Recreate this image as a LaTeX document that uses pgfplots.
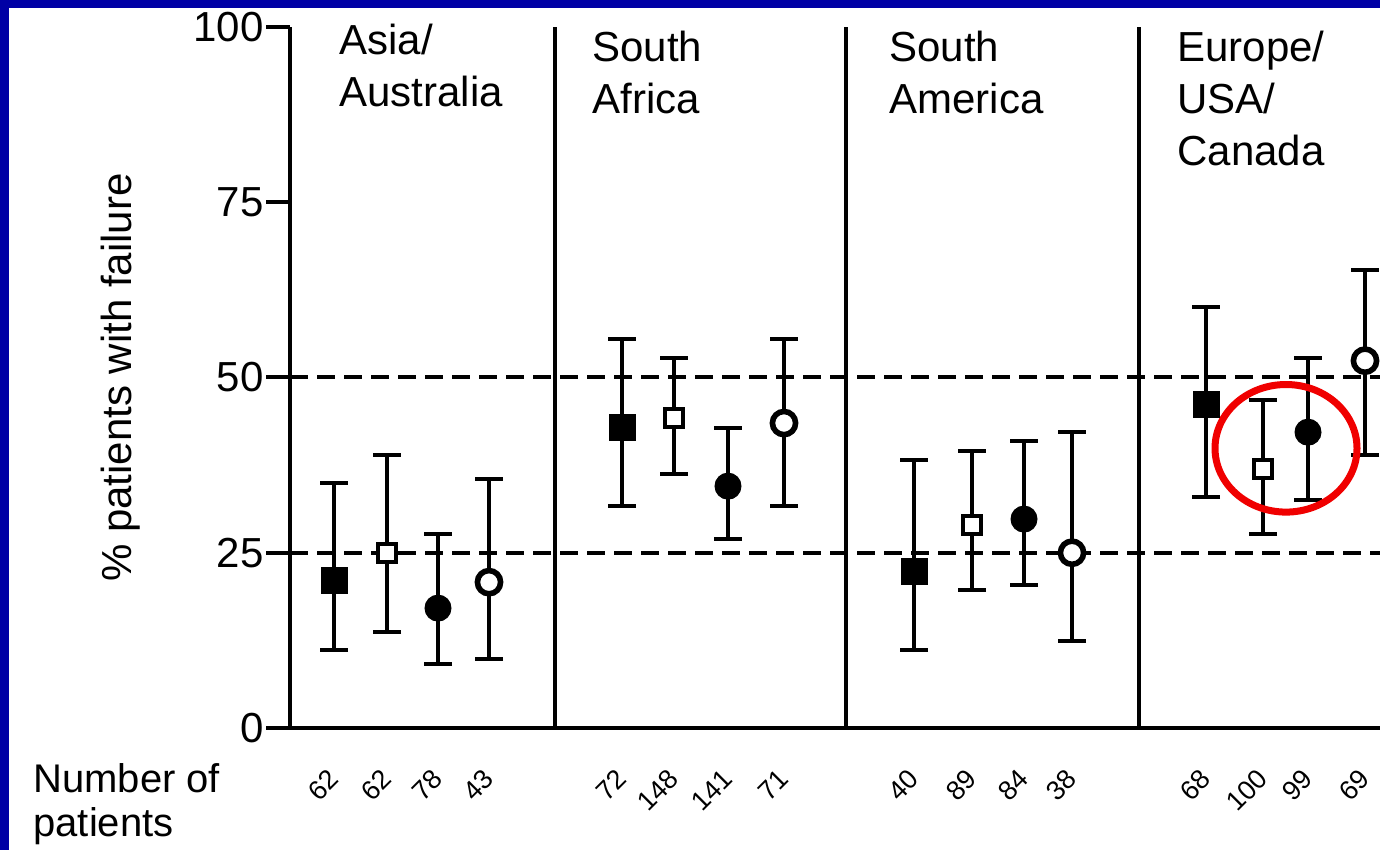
\documentclass[border=0pt]{standalone}
\usepackage{fontspec}
\setmainfont{Liberation Sans}
\usepackage{pgfplots}
\pgfplotsset{compat=1.18}
\definecolor{bandblue}{RGB}{0,0,165}
\definecolor{circred}{RGB}{240,0,0}
\begin{document}
\begin{tikzpicture}
\useasboundingbox (0,0) rectangle (690pt,425pt);
\fill[white] (0,0) rectangle (690pt,425pt);
\fill[bandblue] (0,0) rectangle (4.5pt,425pt);
\fill[bandblue] (0,421pt) rectangle (690pt,425pt);
\begin{axis}[
  at={(145pt,61pt)}, anchor=south west,
  scale only axis, width=545pt, height=350.5pt,
  xmin=290, xmax=1380, ymin=0, ymax=100,
  axis x line*=bottom, axis y line*=left,
  axis line style={line width=2pt},
  ytick={0,25,50,75,100},
  tick align=outside, major tick length=12pt,
  ytick style={line width=2pt, black},
  xtick style={draw=none},
  xtick={334,387,438,489,622,674,728,784,914,972,1024,1072,1206,1263,1308,1365},
  xticklabels={62,62,78,43,72,148,141,71,40,89,84,38,68,100,99,69},
  xticklabel style={rotate=45, anchor=east, inner sep=0pt, font=\fontsize{13.5}{13.5}\selectfont},
  xticklabel shift=11pt,
  yticklabel style={font=\fontsize{21}{21}\selectfont, inner sep=1pt},
  /pgf/number format/assume math mode=true,
  ylabel={\% patients with failure},
  ylabel style={at={(axis description cs:-0.155,0.5)}, anchor=center, font=\fontsize{21}{21}\selectfont},
  clip=false,
  error bars/y dir=both, error bars/y explicit,
  error bars/error bar style={line width=2pt, black},
  error bars/error mark options={rotate=90, line width=2pt, mark size=7pt, black},
]
% series 1: filled squares
\addplot[only marks, mark=square*, mark size=6.5pt, mark options={fill=black, draw=black, line width=0.5pt}]
 coordinates {
 (334,21.0) += (0,14.0) -= (0,9.9)
 (622,42.9) += (0,12.6) -= (0,11.2)
 (914,22.3) += (0,15.9) -= (0,11.2)
 (1206,46.2) += (0,13.9) -= (0,13.2)
 };
% series 2: open squares
\addplot[only marks, mark=square*, mark size=4.5pt, mark options={fill=white, draw=black, line width=2pt}]
 coordinates {
 (387,25.0) += (0,13.9) -= (0,11.3)
 (674,44.2) += (0,8.6) -= (0,8.0)
 (972,29.0) += (0,10.5) -= (0,9.3)
 (1263,36.9) += (0,9.9) -= (0,9.2)
 };
% series 3: filled circles
\addplot[only marks, mark=*, mark size=6.5pt, mark options={fill=black, draw=black, line width=0.5pt}]
 coordinates {
 (438,17.1) += (0,10.6) -= (0,8.0)
 (728,34.5) += (0,8.3) -= (0,7.5)
 (1024,29.8) += (0,11.1) -= (0,9.4)
 (1308,42.2) += (0,10.6) -= (0,9.7)
 };
% series 4: open circles
\addplot[only marks, mark=*, mark size=5.8pt, mark options={fill=white, draw=black, line width=2.8pt}]
 coordinates {
 (489,20.8) += (0,14.7) -= (0,11.0)
 (784,43.5) += (0,12.0) -= (0,11.8)
 (1072,25.0) += (0,17.2) -= (0,12.6)
 (1365,52.4) += (0,12.9) -= (0,13.5)
 };
% reference lines and dividers
\draw[line width=2pt, dash pattern=on 9pt off 4.5pt] (axis cs:290,25) -- (axis cs:1380,25);
\draw[line width=2pt, dash pattern=on 9pt off 4.5pt] (axis cs:290,50) -- (axis cs:1380,50);
\draw[line width=2pt] (axis cs:555,0) -- (axis cs:555,100);
\draw[line width=2pt] (axis cs:846,0) -- (axis cs:846,100);
\draw[line width=2pt] (axis cs:1139,0) -- (axis cs:1139,100);
% region labels
\node[anchor=north west, align=left, inner sep=0pt, font=\fontsize{21}{26}\selectfont] at (axis cs:339,100.5) {Asia/\\Australia};
\node[anchor=north west, align=left, inner sep=0pt, font=\fontsize{21}{26}\selectfont] at (axis cs:592,99.5) {South\\Africa};
\node[anchor=north west, align=left, inner sep=0pt, font=\fontsize{21}{26}\selectfont] at (axis cs:889,99.5) {South\\America};
\node[anchor=north west, align=left, inner sep=0pt, font=\fontsize{21}{26}\selectfont] at (axis cs:1177,99.5) {Europe/\\USA/\\Canada};
% highlight
\draw[circred, line width=3.5pt] (axis cs:1286,39.9) ellipse [x radius=71, y radius=9.1];
\end{axis}
\node[anchor=north west, align=left, inner sep=0pt, font=\fontsize{20}{22}\selectfont] at (16.5pt,43.5pt) {Number of\\patients};
\end{tikzpicture}
\end{document}
